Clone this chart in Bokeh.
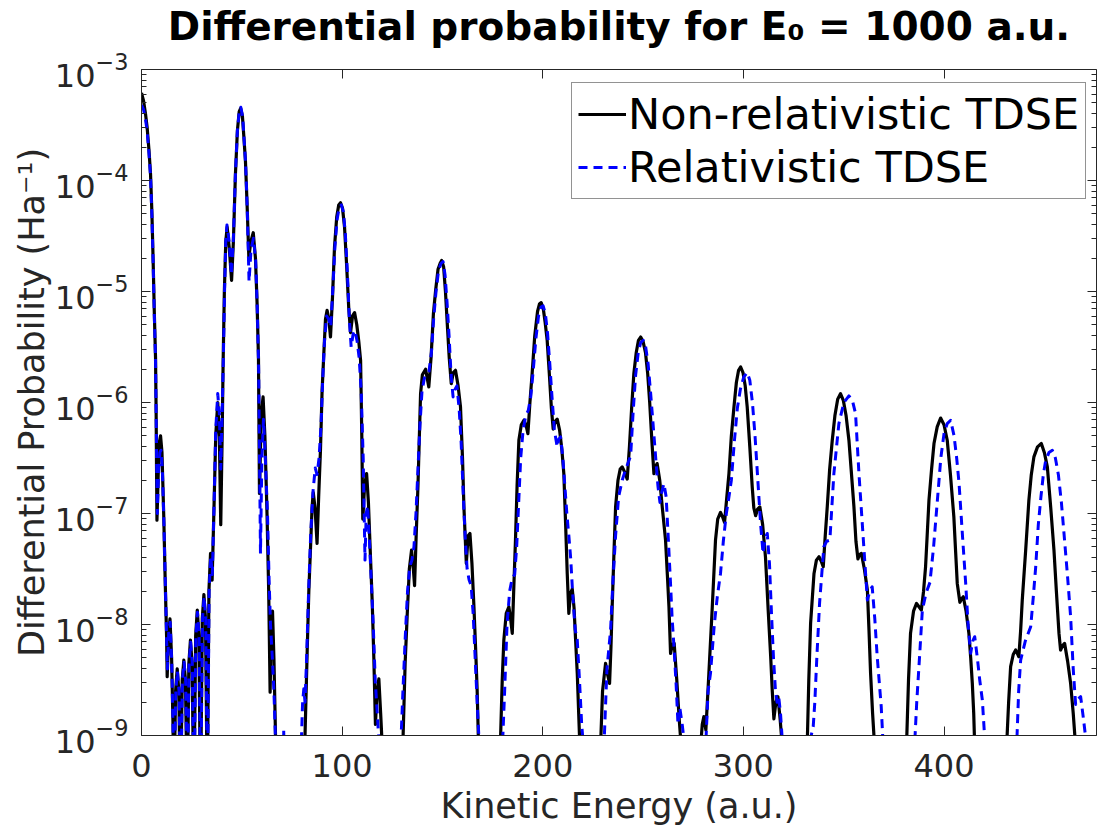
from bokeh.plotting import figure
from bokeh.models import (Range1d, FixedTicker, LogAxis, LinearAxis, Legend,
                          LegendItem, LogTickFormatter)
from bokeh.embed import file_html
from bokeh.resources import INLINE

# ---------------- data (energy in a.u., log10 of probability) ----------------
nr_energy = [
    0.0, 1.0, 2.0, 2.8, 3.7, 4.5, 5.2, 5.8, 6.4, 7.0, 7.3, 7.5, 7.7, 8.4, 9.0, 9.5, 10.2, 11.1, 11.8, 12.5,
    12.8, 13.5, 14.2, 15.0, 15.7, 16.1, 17.0, 17.8, 18.6, 19.4, 20.3, 21.1, 21.9, 22.8, 23.6, 24.4, 25.2,
    26.1, 27.0, 27.8, 28.6, 29.4, 30.3, 31.1, 31.9, 32.8, 33.6, 34.4, 35.2, 36.2, 37.0, 38.0, 38.8, 39.5,
    40.2, 40.7, 41.3, 42.0, 42.7, 43.8, 44.9, 45.8, 46.8, 47.8, 48.7, 49.4, 50.3, 51.0, 51.8, 52.6, 53.5,
    54.5, 55.7, 56.8, 57.6, 58.3, 58.8, 59.7, 60.6, 61.5, 62.6, 63.4, 64.1, 64.7, 65.3, 66.0, 66.8, 67.3,
    80.8, 81.5, 82.6, 83.4, 84.2, 85.0, 85.6, 86.5, 87.5, 88.3, 89.2, 90.0, 90.9, 91.7, 92.5, 93.4, 94.2,
    95.2, 96.2, 97.3, 98.3, 99.2, 100.2, 101.2, 102.2, 103.3, 104.2, 105.2, 106.2, 107.3, 108.3, 109.2,
    109.8, 110.3, 111.2, 112.2, 113.1, 114.0, 115.0, 115.8, 116.6, 117.4, 118.3, 119.2, 120.0, 120.4,
    129.9, 130.4, 131.4, 132.4, 133.5, 134.6, 135.5, 136.1, 136.9, 137.8, 138.5, 139.1, 140.0, 141.6,
    143.2, 144.3, 145.5, 146.6, 147.8, 149.0, 149.6, 150.6, 151.5, 152.4, 153.4, 154.4, 155.4, 156.5,
    157.8, 159.0, 160.0, 160.7, 161.9, 162.8, 163.7, 164.7, 165.7, 166.5, 167.3, 168.0, 168.4,
    178.6, 179.0, 179.8, 180.6, 181.8, 183.1, 184.0, 184.8, 185.6, 186.4, 187.2, 188.1, 189.3, 190.6,
    191.6, 192.6, 193.6, 194.7, 196.0, 197.4, 198.4, 199.2, 200.3, 201.2, 202.2, 203.3, 204.3, 205.2,
    206.2, 207.2, 208.4, 209.5, 210.5, 211.4, 212.2, 213.0, 213.8, 214.7, 215.6, 216.4, 217.2, 217.9,
    218.5, 218.8,
    228.5, 228.8, 229.8, 231.3, 232.3, 233.3, 234.0, 234.6, 235.5, 236.3, 237.5, 238.6, 239.6, 240.9,
    242.1, 243.2, 244.3, 245.4, 246.6, 247.7, 248.8, 250.0, 251.2, 252.3, 253.3, 254.4, 255.4, 256.2,
    257.0, 258.3, 259.6, 261.2, 262.1, 262.9, 263.7, 264.6, 265.5, 266.8, 268.0, 269.0, 269.5,
    278.4, 278.7, 279.5, 280.3, 281.3, 282.8, 284.5, 286.1, 287.2, 288.6, 289.6, 290.6, 291.6, 292.8,
    294.0, 295.3, 296.5, 297.6, 298.6, 299.8, 300.9, 301.9, 303.2, 304.4, 305.2, 306.1, 307.1, 308.2,
    309.6, 311.0, 312.3, 313.6, 314.4, 315.2, 316.2, 317.2, 318.3, 319.4, 319.8,
    331.5, 331.8, 332.6, 333.5, 335.2, 336.4, 337.7, 338.8, 339.8, 340.8, 341.8, 343.0, 344.3, 345.6,
    347.0, 348.4, 349.8, 351.2, 352.6, 353.9, 355.1, 356.1, 357.1, 357.9, 358.8, 360.3, 361.8, 362.6,
    363.4, 364.4, 365.4, 365.8,
    381.0, 381.3, 382.3, 383.3, 384.8, 386.3, 387.5, 388.7, 389.8, 390.8, 391.6, 392.5, 393.8, 395.0,
    396.6, 398.3, 400.0, 401.6, 403.2, 404.9, 405.8, 406.6, 407.9, 408.7, 409.6, 411.0, 412.4, 413.3,
    414.1, 414.8, 415.3, 415.6,
    431.0, 431.2, 432.2, 433.2, 434.5, 435.7, 436.5, 437.3, 438.2, 439.0, 440.7, 442.3, 443.5, 444.8,
    446.6, 448.5, 450.0, 451.5, 453.2, 454.8, 456.0, 457.3, 458.1, 459.1, 460.1, 461.6, 463.1, 464.4,
    465.6, 466.0, 476.0,
]
nr_log10_prob = [
    -3.21, -3.28, -3.40, -3.52, -3.72, -3.94, -4.30, -4.72, -5.20, -5.60, -6.10, -6.60, -7.06, -6.60, -6.35,
    -6.30, -6.45, -7.03, -7.60, -8.10,
    -8.47, -8.10, -7.95, -8.30, -8.90, -9.60, -8.60, -8.40, -8.60, -9.60, -8.50, -8.32, -8.50, -9.60,
    -8.35, -8.14, -8.35,
    -9.60, -8.10, -7.87, -8.10, -9.60, -7.95, -7.73, -7.95, -9.60, -7.70, -7.36, -7.60, -6.90, -6.30,
    -6.00, -6.30, -7.10,
    -6.30, -5.62, -5.00, -4.55, -4.42, -4.62, -4.90, -4.55, -3.95, -3.55, -3.38, -3.35, -3.42, -3.60,
    -3.82, -4.20, -4.69,
    -4.55, -4.47, -4.70, -5.10, -5.60, -6.82, -6.10, -5.95, -6.30, -7.03, -7.70, -8.61, -8.00, -7.88,
    -8.30, -9.00, -10.5,
    -10.5, -9.00, -8.23, -7.70, -7.33, -6.95, -6.81, -6.95, -7.27, -6.85, -6.43, -5.90, -5.55, -5.25,
    -5.17, -5.25, -5.41,
    -5.05, -4.60, -4.33, -4.22, -4.20, -4.25, -4.42, -4.75, -5.15, -5.37, -5.22, -5.19, -5.30, -5.45,
    -5.62,
    -6.30, -7.05, -6.75, -6.64, -6.90, -7.33, -7.80, -8.30, -8.90, -8.60, -8.49, -8.80, -9.10, -10.5,
    -10.5, -9.00, -8.35, -7.93, -7.50, -7.33, -7.50, -7.65, -7.20, -6.75, -6.30, -5.92, -5.75, -5.70,
    -5.86, -5.60, -5.20, -4.99, -4.80, -4.74, -4.72, -4.78, -5.00, -5.29, -5.60, -5.83, -5.73, -5.71,
    -5.85, -6.04, -6.50, -6.94, -7.45, -7.20, -7.18, -7.45, -7.84, -8.20, -8.59, -9.10, -10.5,
    -10.5, -9.00, -8.50, -8.14, -7.90, -7.84, -7.95, -8.08, -7.65, -7.24, -6.75, -6.34, -6.20, -6.16,
    -6.20, -6.28, -6.00, -5.74, -5.40, -5.18, -5.11, -5.10, -5.16, -5.28, -5.44, -5.75, -6.05, -6.24,
    -6.17, -6.15, -6.25, -6.42, -6.64, -7.10, -7.54, -7.90, -7.72, -7.68, -7.85, -8.15, -8.44, -8.80,
    -9.10, -10.5,
    -10.5, -9.10, -8.60, -8.35, -8.45, -8.53, -8.20, -7.84, -7.35, -6.94, -6.70, -6.60, -6.58, -6.63,
    -6.69, -6.40, -6.05, -5.74, -5.55, -5.44, -5.41, -5.45, -5.55, -5.74, -6.00, -6.35, -6.64, -6.58,
    -6.55, -6.70, -6.95, -7.24, -7.55, -7.84, -8.26, -8.18, -8.17, -8.50, -8.85, -9.10, -10.5,
    -10.5, -9.10, -8.90, -8.83, -8.95, -8.44, -7.84, -7.24, -7.05, -6.99, -7.03, -7.08, -6.88, -6.64,
    -6.30, -6.04, -5.82, -5.71, -5.68, -5.73, -5.85, -6.04, -6.40, -6.76, -6.95, -7.02, -6.96, -6.94,
    -7.10, -7.39, -7.85, -8.29, -8.60, -8.85, -8.70, -8.65, -8.85, -9.10, -10.5,
    -10.5, -9.10, -8.50, -7.99, -7.54, -7.42, -7.39, -7.43, -7.48, -7.20, -6.94, -6.60, -6.34, -6.12,
    -5.97, -5.92, -5.98, -6.12, -6.34, -6.65, -6.94, -7.25, -7.41, -7.37, -7.36, -7.50, -7.69, -8.05,
    -8.44, -8.80, -9.10, -10.5,
    -10.5, -9.10, -8.50, -8.08, -7.88, -7.81, -7.84, -7.87, -7.70, -7.48, -7.20, -6.88, -6.60, -6.37,
    -6.22, -6.14, -6.20, -6.34, -6.65, -7.03, -7.35, -7.63, -7.80, -7.77, -7.75, -7.88, -8.08, -8.30,
    -8.53, -8.80, -9.10, -10.5,
    -10.5, -9.10, -8.70, -8.38, -8.27, -8.23, -8.26, -8.29, -8.05, -7.78, -7.33, -6.88, -6.65, -6.49,
    -6.40, -6.37, -6.45, -6.58, -6.95, -7.33, -7.70, -8.08, -8.23, -8.19, -8.17, -8.33, -8.53, -8.80,
    -9.10, -10.5, -10.5,
]

rel_energy = [
    0.0, 1.0, 2.0, 2.8, 3.7, 4.5, 5.2, 5.8, 6.4, 7.0, 7.3, 7.6, 7.9, 8.6, 9.2, 9.7, 10.4, 11.2, 11.9, 12.5,
    12.9, 13.6, 14.3, 15.1, 15.8, 16.2, 17.1, 17.9, 18.7, 19.5, 20.4, 21.2, 22.0, 22.9, 23.7, 24.5, 25.3,
    26.2, 27.1, 27.9, 28.7, 29.5, 30.4, 31.2, 32.0, 32.9, 33.7, 34.5, 35.3, 36.2, 37.0, 38.0, 38.8, 39.5,
    40.2, 40.8, 41.4, 42.0, 42.6, 43.7, 44.8, 45.8, 46.8, 47.8, 48.7, 49.5, 50.4, 51.1, 51.9, 52.7, 53.6,
    54.6, 55.8, 56.9, 57.7, 58.4, 58.9, 59.3, 60.0, 60.8, 61.6, 62.8, 63.6, 64.3, 65.2, 66.0, 66.9, 67.3,
    70.4, 70.9, 71.4,
    79.0, 79.6, 80.3, 80.9, 81.5, 82.3, 83.3, 84.3, 85.5, 86.6, 87.5, 88.5, 89.5, 90.3, 91.2, 92.3, 93.3,
    94.3, 95.3, 96.4, 97.5, 98.6, 99.6, 100.6, 101.6, 102.6, 103.6, 104.5, 105.5, 106.4, 107.5, 108.5,
    109.5, 110.5, 111.4, 112.0, 112.7, 113.5, 114.5, 115.5, 116.5, 117.5, 118.5, 118.9,
    128.8, 129.2, 130.3, 131.5, 132.6, 133.7, 134.8, 135.8, 136.8, 137.8, 138.8, 139.8, 141.0, 142.2,
    143.3, 144.5, 145.6, 146.8, 148.0, 149.2, 150.3, 151.3, 152.3, 153.3, 154.3, 155.3, 156.3, 157.2,
    158.3, 159.3, 160.3, 161.3, 162.3, 163.3, 164.3, 165.3, 166.3, 167.3, 168.4, 168.8,
    179.5, 179.9, 181.0, 182.2, 183.5, 184.8, 186.0, 187.0, 188.0, 189.0, 190.2, 191.5, 192.8, 194.0,
    195.3, 196.6, 197.9, 199.1, 200.2, 201.3, 202.4, 203.5, 204.6, 205.8, 207.2, 208.0, 208.9, 210.0,
    211.0, 212.0, 213.0, 213.9, 215.0, 216.2, 217.2, 218.3, 219.4, 220.3, 220.6,
    230.2, 230.5, 232.0, 233.8, 235.0, 236.3, 237.8, 239.6, 241.0, 242.4, 243.8, 245.0, 246.3, 247.6,
    248.8, 250.1, 251.3, 252.5, 253.7, 255.0, 256.3, 257.4, 258.4, 259.4, 260.4, 261.5, 262.5, 263.6,
    264.5, 265.4, 266.5, 267.4, 268.3, 269.5, 270.8, 271.1,
    280.8, 281.2, 282.4, 283.6, 285.5, 287.0, 288.6, 290.0, 291.5, 292.8, 294.0, 295.5, 297.0, 298.5,
    300.2, 301.9, 303.2, 304.5, 305.8, 307.2, 308.6, 309.8, 310.9, 311.9, 313.0, 314.0, 315.0, 316.0,
    316.8, 317.6, 318.5, 319.6, 320.0,
    333.0, 333.8, 334.8, 335.6, 336.6, 338.0, 340.1, 341.5, 343.1, 345.1, 347.6, 350.1, 352.6, 354.3,
    355.9, 357.6, 359.8, 361.8, 363.0, 364.2, 365.5, 366.7, 368.7, 369.7, 370.0,
    385.0, 385.3, 386.4, 387.5, 389.2, 391.0, 393.0, 394.8, 396.7, 398.4, 400.0, 401.6, 403.3, 405.0,
    406.3, 407.5, 409.2, 410.8, 412.0, 413.3, 414.3, 415.3, 416.6, 417.8, 419.1, 420.2, 420.7, 421.0,
    436.0, 436.2, 437.2, 438.2, 440.5, 443.2, 444.5, 445.7, 447.0, 448.3, 449.5, 450.6, 452.3, 454.0,
    455.5, 457.0, 458.5, 459.8, 461.5, 463.1, 464.4, 465.6, 466.8, 468.1, 469.5, 470.8, 471.4, 471.8,
    476.0,
]
rel_log10_prob = [
    -3.32, -3.36, -3.45, -3.55, -3.75, -3.96, -4.32, -4.74, -5.22, -5.62, -6.10, -6.60, -7.00, -6.60,
    -6.45, -6.43, -6.60, -7.10, -7.65, -8.10,
    -8.40, -8.05, -7.98, -8.35, -9.00, -9.60, -8.60, -8.42, -8.60, -9.60, -8.50, -8.34, -8.50, -9.60,
    -8.35, -8.16, -8.35,
    -9.60, -8.10, -7.89, -8.10, -9.60, -7.95, -7.75, -7.95, -9.60, -7.70, -7.38, -7.55, -6.90, -6.25,
    -5.92, -6.10, -6.60,
    -6.10, -5.60, -5.00, -4.55, -4.40, -4.55, -4.85, -4.52, -3.95, -3.55, -3.38, -3.34, -3.42, -3.62,
    -3.85, -4.25, -4.91,
    -4.62, -4.52, -4.72, -5.15, -5.70, -6.60, -7.36, -6.50, -6.15, -6.45, -7.00, -7.60, -8.00, -8.30,
    -8.60, -9.10, -10.5,
    -10.5, -8.94, -10.5,
    -10.5, -9.10, -8.70, -8.58, -8.70, -8.30, -7.70, -7.20, -6.80, -6.59, -6.65, -6.50, -6.20, -5.80,
    -5.45, -5.22, -5.25,
    -5.32, -5.00, -4.60, -4.35, -4.24, -4.22, -4.28, -4.48, -4.82, -5.25, -5.50, -5.38, -5.35, -5.45,
    -5.60,
    -5.90, -6.50, -7.42, -7.00, -6.93, -7.20, -7.60, -8.00, -8.50, -8.80, -9.10, -10.5,
    -10.5, -9.10, -8.60, -8.10, -7.70, -7.48, -7.42, -7.30, -7.00, -6.60, -6.20, -5.90, -5.78, -5.75,
    -5.72, -5.55, -5.25, -5.00, -4.82, -4.75, -4.73, -4.85, -5.10, -5.40, -5.75, -5.95, -5.88, -5.85,
    -6.05, -6.35, -6.80, -7.20, -7.50, -7.60, -7.65, -7.90, -8.30, -8.70, -9.10, -10.5,
    -10.5, -9.10, -8.60, -8.00, -7.70, -7.58, -7.55, -7.30, -6.90, -6.50, -6.25, -6.12, -6.07, -5.95,
    -5.70, -5.42, -5.22, -5.14, -5.13, -5.20, -5.38, -5.65, -5.95, -6.25, -6.40, -6.33, -6.31, -6.50,
    -6.75, -7.00, -7.20, -7.40, -7.75, -8.05, -8.14, -8.50, -8.90, -9.10, -10.5,
    -10.5, -9.10, -8.40, -8.05, -7.60, -7.20, -6.85, -6.70, -6.62, -6.55, -6.48, -6.10, -5.75, -5.55,
    -5.46, -5.44, -5.50, -5.65, -5.90, -6.20, -6.50, -6.75, -6.90, -6.80, -6.73, -6.85, -7.20, -7.60,
    -7.95, -8.20, -8.55, -8.90, -8.75, -8.90, -9.10, -10.5,
    -10.5, -9.10, -8.60, -8.44, -8.00, -7.75, -7.54, -7.25, -7.00, -6.85, -6.70, -6.35, -6.05, -5.88,
    -5.77, -5.73, -5.80, -6.00, -6.30, -6.70, -7.10, -7.36, -7.22, -7.18, -7.45, -7.90, -8.30, -8.60,
    -8.70, -8.65, -8.80, -9.10, -10.5,
    -10.5, -9.00, -8.92, -8.70, -8.30, -7.80, -7.30, -7.25, -7.24, -6.64, -6.19, -6.00, -5.94, -5.98,
    -6.10, -6.64, -7.24, -7.78, -7.70, -7.66, -7.95, -8.29, -8.74, -9.10, -10.5,
    -10.5, -9.10, -8.70, -8.38, -7.87, -7.72, -7.62, -7.30, -6.88, -6.50, -6.28, -6.19, -6.16, -6.30,
    -6.50, -6.73, -7.20, -7.63, -8.00, -8.26, -8.15, -8.11, -8.30, -8.50, -8.68, -9.00, -9.10, -10.5,
    -10.5, -9.10, -8.60, -8.32, -8.15, -8.02, -7.75, -7.48, -7.10, -6.85, -6.65, -6.53, -6.45, -6.43,
    -6.50, -6.65, -6.90, -7.18, -7.55, -7.93, -8.40, -8.72, -8.67, -8.65, -8.85, -9.05, -9.20, -10.5,
    -10.5,
]

x_tick_values = [0, 100, 200, 300, 400]
y_decades = [-9, -8, -7, -6, -5, -4, -3]

series_labels = ["Non-relativistic TDSE", "Relativistic TDSE"]
title_text = "Differential probability for E\u2080 = 1000 a.u."
x_label = "Kinetic Energy (a.u.)"
y_label = "Differential Probability (Ha\u207b\u00b9)"

nr_prob = [10.0 ** e for e in nr_log10_prob]
rel_prob = [10.0 ** e for e in rel_log10_prob]

y_major = [10.0 ** d for d in y_decades]
y_minor = [m * 10.0 ** d for d in y_decades[:-1] for m in range(2, 10)]

FONT = "DejaVu Sans"
AX = "#262626"

p = figure(width=1100, height=832, y_axis_type="log",
           x_range=Range1d(0, 476), y_range=Range1d(1e-9, 1e-3),
           output_backend="svg", toolbar_location=None,
           min_border_left=141, min_border_right=4, min_border_top=69, min_border_bottom=97)
p.grid.visible = False
p.outline_line_color = None

r_nr = p.line(nr_energy, nr_prob, line_color="black", line_width=3.2, line_join="round")
r_rel = p.line(rel_energy, rel_prob, line_color="#0000ff", line_width=3, line_dash="9 6",
               line_join="round")

yt = FixedTicker(ticks=y_major, minor_ticks=y_minor)
xt = FixedTicker(ticks=x_tick_values)

def style_axis(ax, labels=True):
    ax.axis_line_color = AX
    ax.axis_line_width = 1
    ax.major_tick_line_color = AX
    ax.minor_tick_line_color = AX
    ax.major_tick_in = 9
    ax.major_tick_out = 0
    ax.minor_tick_in = 5
    ax.minor_tick_out = 0
    ax.major_label_text_font = FONT
    ax.major_label_text_color = AX
    ax.axis_label_text_font = FONT
    ax.axis_label_text_font_style = "normal"
    ax.axis_label_text_color = AX
    if labels:
        ax.major_label_text_font_size = "32px"
        ax.axis_label_text_font_size = "35px"
    else:
        ax.major_label_text_font_size = "1px"
        ax.major_label_text_alpha = 0
        ax.major_label_standoff = 0

xa = p.xaxis[0]
xa.ticker = xt
style_axis(xa)
xa.minor_tick_line_color = None
xa.major_label_standoff = 18
xa.axis_label = x_label
xa.axis_label_standoff = 6

ya = p.yaxis[0]
ya.ticker = yt
ya.formatter = LogTickFormatter()
style_axis(ya)
ya.major_label_standoff = 13
ya.axis_label = y_label
ya.axis_label_standoff = 0

ra = LogAxis(ticker=yt, formatter=LogTickFormatter())
style_axis(ra, labels=False)
p.add_layout(ra, "right")

# top axis: ticks only, carries the chart title centred over the plot box
ta = LinearAxis(ticker=xt)
style_axis(ta, labels=False)
ta.minor_tick_line_color = None
ta.axis_label = title_text
ta.axis_label_text_font_size = "39px"
ta.axis_label_text_font_style = "bold"
ta.axis_label_text_color = "black"
ta.axis_label_standoff = 21
p.add_layout(ta, "above")

legend = Legend(items=[LegendItem(label=series_labels[0], renderers=[r_nr]),
                       LegendItem(label=series_labels[1], renderers=[r_rel])],
                location=(430, 536))
legend.label_text_font = FONT
legend.label_text_font_size = "43px"
legend.label_text_color = "black"
legend.glyph_width = 48
legend.glyph_height = 40
legend.label_standoff = 2
legend.padding = 6
legend.spacing = 3
legend.margin = 0
legend.border_line_color = AX
legend.border_line_width = 1
legend.background_fill_alpha = 1
p.add_layout(legend)

open("out.html", "w").write(file_html(p, INLINE))
